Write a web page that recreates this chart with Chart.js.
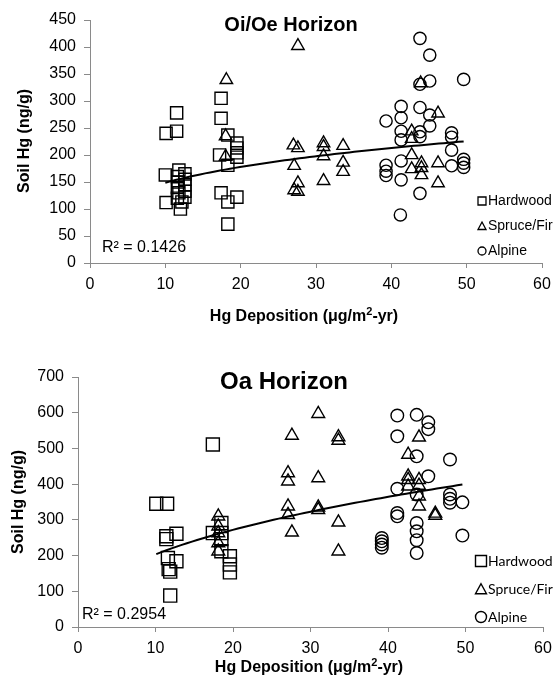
<!DOCTYPE html>
<html>
<head>
<meta charset="utf-8">
<script src="https://cdn.jsdelivr.net/npm/chart.js@4/dist/chart.umd.min.js"></script>
<style>
  html, body { margin: 0; padding: 0; background: #fff; }
  #wrap { position: relative; width: 555px; height: 682px; overflow: hidden; background: #fff; }
  canvas { position: absolute; left: 0; }
</style>
</head>
<body>
<div id="wrap">
  <canvas id="oiChart" width="555" height="330" style="top:0px"></canvas>
  <canvas id="oaChart" width="555" height="352" style="top:330px"></canvas>
</div>
<script>
// ---- Axis ticks ----
const depositionTicks = [0, 10, 20, 30, 40, 50, 60];
const oiHgTicks = [0, 50, 100, 150, 200, 250, 300, 350, 400, 450];
const oaHgTicks = [0, 100, 200, 300, 400, 500, 600, 700];

// ---- Oi/Oe horizon: Hg deposition (µg/m²-yr) vs soil Hg (ng/g) ----
const oiHardwoodDep = [10.1, 10.0, 10.1, 11.5, 11.5, 11.8, 11.6, 11.7, 11.6, 11.8, 11.6, 12.0, 12.6, 12.6, 12.6, 12.6, 12.6, 12.2,
                       17.4, 17.4, 18.3, 17.2, 18.3, 17.4, 18.3, 19.5, 18.3, 19.5, 19.5, 19.5, 19.5];
const oiHardwoodHg  = [240, 163, 112, 278, 244, 172, 160, 150, 140, 130, 120, 100, 165, 155, 145, 133, 122, 113,
                       305, 268, 237, 200, 181, 130, 113, 122, 72, 222, 213, 204, 196];
const oiSpruceDep = [18.1, 18.0, 18.0, 27.6, 27.0, 27.6, 27.1, 27.6, 27.1, 27.6, 31.0, 31.0, 31.0, 31.0, 33.6, 33.6, 33.6,
                     43.9, 46.2, 42.7, 42.7, 42.7, 44.0, 44.0, 42.7, 44.0, 46.2, 46.2];
const oiSpruceHg  = [339, 235, 197, 402, 218, 213, 180, 148, 135, 132, 222, 215, 198, 152, 217, 186, 169,
                     333, 277, 244, 230, 200, 185, 176, 174, 163, 185, 148];
const oiAlpineDep = [43.8, 45.1, 43.8, 45.1, 49.6, 41.3, 43.8, 41.3, 39.3, 45.1, 45.1, 41.3, 43.8, 43.8, 41.3, 48.0, 48.0, 48.0,
                     41.3, 39.3, 39.3, 39.3, 41.3, 43.8, 41.2, 48.0, 49.6, 49.6, 49.6];
const oiAlpineHg  = [416, 385, 331, 337, 340, 290, 288, 269, 263, 274, 254, 244, 243, 234, 228, 241, 233, 209,
                     189, 181, 170, 162, 154, 129, 89, 180, 192, 185, 177];
// power trend y = a·x^b
const oiTrendA = 81.9, oiTrendB = 0.259;
const oiR2Label = 'R\u00B2 = 0.1426';

// ---- Oa horizon ----
const oaHardwoodDep = [17.4, 10.1, 11.5, 11.4, 11.4, 12.7, 11.6, 12.7, 11.7, 11.9, 11.9, 17.4, 18.5, 18.5, 18.5, 18.5, 19.6, 19.6, 19.6];
const oaHardwoodHg  = [511, 345, 345, 254, 246, 261, 193, 184, 162, 155, 88, 263, 291, 263, 246, 212, 198, 175, 153];
const oaSpruceDep = [18.1, 18.1, 18.1, 18.1, 18.1, 31.0, 27.6, 33.6, 33.6, 27.1, 27.1, 31.0, 27.1, 27.1, 31.0, 31.0, 27.6, 33.6, 33.6,
                     44.0, 42.6, 42.6, 42.6, 42.6, 44.0, 44.0, 44.0, 44.0, 46.1, 46.1];
const oaSpruceHg  = [310, 282, 263, 235, 212, 597, 536, 532, 522, 431, 408, 417, 338, 314, 335, 328, 265, 293, 212,
                     531, 483, 422, 412, 394, 412, 396, 366, 338, 318, 312];
const oaAlpineDep = [41.2, 43.7, 45.2, 45.2, 41.2, 43.7, 48.0, 45.2, 41.2, 43.7, 48.0, 48.0, 48.0, 49.6, 41.2, 41.2,
                     43.7, 43.7, 43.7, 43.7, 49.6, 39.2, 39.2, 39.2, 39.2];
const oaAlpineHg  = [592, 594, 573, 554, 534, 478, 469, 422, 387, 371, 371, 359, 348, 349, 319, 310,
                     291, 268, 243, 207, 256, 249, 240, 231, 222];
const oaTrendA = 77.1, oaTrendB = 0.421;
const oaR2Label = 'R\u00B2 = 0.2954';

const seriesNames = ['Hardwood', 'Spruce/Fir', 'Alpine'];

// ---- helpers ----
const ARIAL = '"Liberation Sans", Arial, sans-serif';
const AXIS_GREY = '#8a8a8a';

function toPoints(xs, ys) { return xs.map((x, i) => ({ x: x, y: ys[i] })); }

function powerTrend(allX, a, b) {
  const lo = Math.min(...allX), hi = Math.max(...allX);
  const pts = [];
  for (let i = 0; i <= 60; i++) {
    const x = lo + (hi - lo) * i / 60;
    pts.push({ x: x, y: a * Math.pow(x, b) });
  }
  return pts;
}

function scatterSet(label, xs, ys, style, radius) {
  return {
    type: 'scatter', label: label, data: toPoints(xs, ys),
    pointStyle: style, pointRadius: radius, pointHoverRadius: radius,
    backgroundColor: 'rgba(0,0,0,0)', borderColor: '#000', borderWidth: 1.4
  };
}

function drawShape(ctx, shape, x, y, s) {
  ctx.beginPath();
  if (shape === 'rect') {
    ctx.rect(x - s / 2, y - s / 2, s, s);
  } else if (shape === 'triangle') {
    const h = s * 0.87;
    ctx.moveTo(x, y - h / 2 - 0.5);
    ctx.lineTo(x + s / 2, y + h / 2);
    ctx.lineTo(x - s / 2, y + h / 2);
    ctx.closePath();
  } else {
    ctx.arc(x, y, s / 2, 0, Math.PI * 2);
  }
  ctx.stroke();
}

// Free text, superscripted titles and the marker key
const textLayer = {
  id: 'textLayer',
  afterDraw(chart, args, opts) {
    const ctx = chart.ctx;
    ctx.save();
    ctx.fillStyle = '#000';
    ctx.textBaseline = 'middle';
    for (const t of (opts.items || [])) {
      ctx.save();
      ctx.translate(t.x, t.y);
      if (t.rotate) ctx.rotate(t.rotate);
      if (t.parts) {
        let total = 0;
        for (const p of t.parts) { ctx.font = p.sup ? t.supFont : t.font; total += ctx.measureText(p.text).width; }
        let cx = t.align === 'left' ? 0 : -total / 2;
        ctx.textAlign = 'left';
        for (const p of t.parts) {
          ctx.font = p.sup ? t.supFont : t.font;
          ctx.fillText(p.text, cx, p.sup ? -5 : 0);
          cx += ctx.measureText(p.text).width;
        }
      } else {
        ctx.font = t.font;
        ctx.textAlign = t.align || 'center';
        ctx.fillText(t.text, 0, 0);
      }
      ctx.restore();
    }
    const key = opts.key;
    if (key) {
      ctx.strokeStyle = '#000';
      ctx.lineWidth = key.lineWidth;
      ctx.font = key.font;
      ctx.textAlign = 'left';
      key.rows.forEach((r, i) => {
        const y = key.y + i * key.gap;
        drawShape(ctx, r.shape, key.markerX, y, key.size);
        ctx.fillText(r.label, key.textX, y + 0.5);
      });
    }
    ctx.restore();
  }
};

// scales with fixed box sizes; the edge-label padding is dropped so the layout padding alone sets the plot edges
function axes(yTicks, yWidth, xHeight) {
  const tickFont = { family: ARIAL, size: 16 };
  return {
    x: {
      type: 'linear', min: depositionTicks[0], max: depositionTicks[depositionTicks.length - 1],
      afterBuildTicks(s) { s.ticks = depositionTicks.map(v => ({ value: v })); },
      ticks: { color: '#000', font: tickFont, padding: 7, maxRotation: 0, autoSkip: false },
      grid: { display: true, drawOnChartArea: false, drawTicks: true, tickLength: 5, color: AXIS_GREY, lineWidth: 1 },
      border: { display: true, color: AXIS_GREY, width: 1 },
      afterFit(s) { s.height = xHeight; s.paddingLeft = 0; s.paddingRight = 0; }
    },
    y: {
      type: 'linear', min: yTicks[0], max: yTicks[yTicks.length - 1],
      afterBuildTicks(s) { s.ticks = yTicks.map(v => ({ value: v })); },
      ticks: { color: '#000', font: tickFont, padding: 8, autoSkip: false },
      grid: { display: true, drawOnChartArea: false, drawTicks: true, tickLength: 6, color: AXIS_GREY, lineWidth: 1 },
      border: { display: true, color: AXIS_GREY, width: 1 },
      afterFit(s) { s.width = yWidth; s.paddingTop = 0; s.paddingBottom = 0; }
    }
  };
}

function trendSet(points) {
  return {
    type: 'line', label: 'trend', data: points, borderColor: '#000', borderWidth: 2,
    pointRadius: 0, pointHoverRadius: 0, fill: false, tension: 0
  };
}

const commonPlugins = { legend: { display: false }, tooltip: { enabled: false } };

// ---- Oi/Oe chart (canvas 0..330) ----
new Chart(document.getElementById('oiChart'), {
  data: {
    datasets: [
      trendSet(powerTrend(oiHardwoodDep.concat(oiSpruceDep, oiAlpineDep), oiTrendA, oiTrendB)),
      scatterSet(seriesNames[0], oiHardwoodDep, oiHardwoodHg, 'rect', 8.6),
      scatterSet(seriesNames[1], oiSpruceDep, oiSpruceHg, 'triangle', 7.2),
      scatterSet(seriesNames[2], oiAlpineDep, oiAlpineHg, 'circle', 6.1)
    ]
  },
  options: {
    responsive: false, animation: false, devicePixelRatio: 1,
    layout: { padding: { left: 0, top: 20, right: 13, bottom: 0 } },
    scales: axes(oiHgTicks, 90, 67),
    plugins: Object.assign({}, commonPlugins, {
      textLayer: {
        items: [
          { text: 'Oi/Oe Horizon', x: 291, y: 25, font: 'bold 20px ' + ARIAL },
          { text: 'Soil Hg (ng/g)', x: 25, y: 141, rotate: -Math.PI / 2, font: 'bold 16px ' + ARIAL },
          { parts: [{ text: 'Hg Deposition (\u03BCg/m' }, { text: '2', sup: true }, { text: '-yr)' }],
            x: 304, y: 317, font: 'bold 16px ' + ARIAL, supFont: 'bold 11px ' + ARIAL },
          { text: oiR2Label, x: 102, y: 248, align: 'left', font: '16px ' + ARIAL }
        ],
        key: {
          markerX: 482, textX: 488, y: 201, gap: 25, size: 8, lineWidth: 1.3, font: '14px ' + ARIAL,
          rows: [{ shape: 'rect', label: seriesNames[0] }, { shape: 'triangle', label: seriesNames[1] }, { shape: 'circle', label: seriesNames[2] }]
        }
      }
    })
  },
  plugins: [textLayer]
});

// ---- Oa chart (canvas 330..682) ----
new Chart(document.getElementById('oaChart'), {
  data: {
    datasets: [
      trendSet(powerTrend(oaHardwoodDep.concat(oaSpruceDep, oaAlpineDep), oaTrendA, oaTrendB)),
      scatterSet(seriesNames[0], oaHardwoodDep, oaHardwoodHg, 'rect', 9.2),
      scatterSet(seriesNames[1], oaSpruceDep, oaSpruceHg, 'triangle', 7.4),
      scatterSet(seriesNames[2], oaAlpineDep, oaAlpineHg, 'circle', 6.3)
    ]
  },
  options: {
    responsive: false, animation: false, devicePixelRatio: 1,
    layout: { padding: { left: 0, top: 47, right: 12, bottom: 0 } },
    scales: axes(oaHgTicks, 78, 55),
    plugins: Object.assign({}, commonPlugins, {
      textLayer: {
        items: [
          { text: 'Oa Horizon', x: 284, y: 52, font: 'bold 24px ' + ARIAL },
          { text: 'Soil Hg (ng/g)', x: 19, y: 172, rotate: -Math.PI / 2, font: 'bold 16px ' + ARIAL },
          { parts: [{ text: 'Hg Deposition (\u03BCg/m' }, { text: '2', sup: true }, { text: '-yr)' }],
            x: 309, y: 338, font: 'bold 16px ' + ARIAL, supFont: 'bold 11px ' + ARIAL },
          { text: oaR2Label, x: 82, y: 285, align: 'left', font: '16px ' + ARIAL }
        ],
        key: {
          markerX: 481, textX: 488, y: 231, gap: 28, size: 11, lineWidth: 1.4, font: '14px Lato, "Liberation Sans", sans-serif',
          rows: [{ shape: 'rect', label: seriesNames[0] }, { shape: 'triangle', label: seriesNames[1] }, { shape: 'circle', label: seriesNames[2] }]
        }
      }
    })
  },
  plugins: [textLayer]
});
</script>
</body>
</html>
